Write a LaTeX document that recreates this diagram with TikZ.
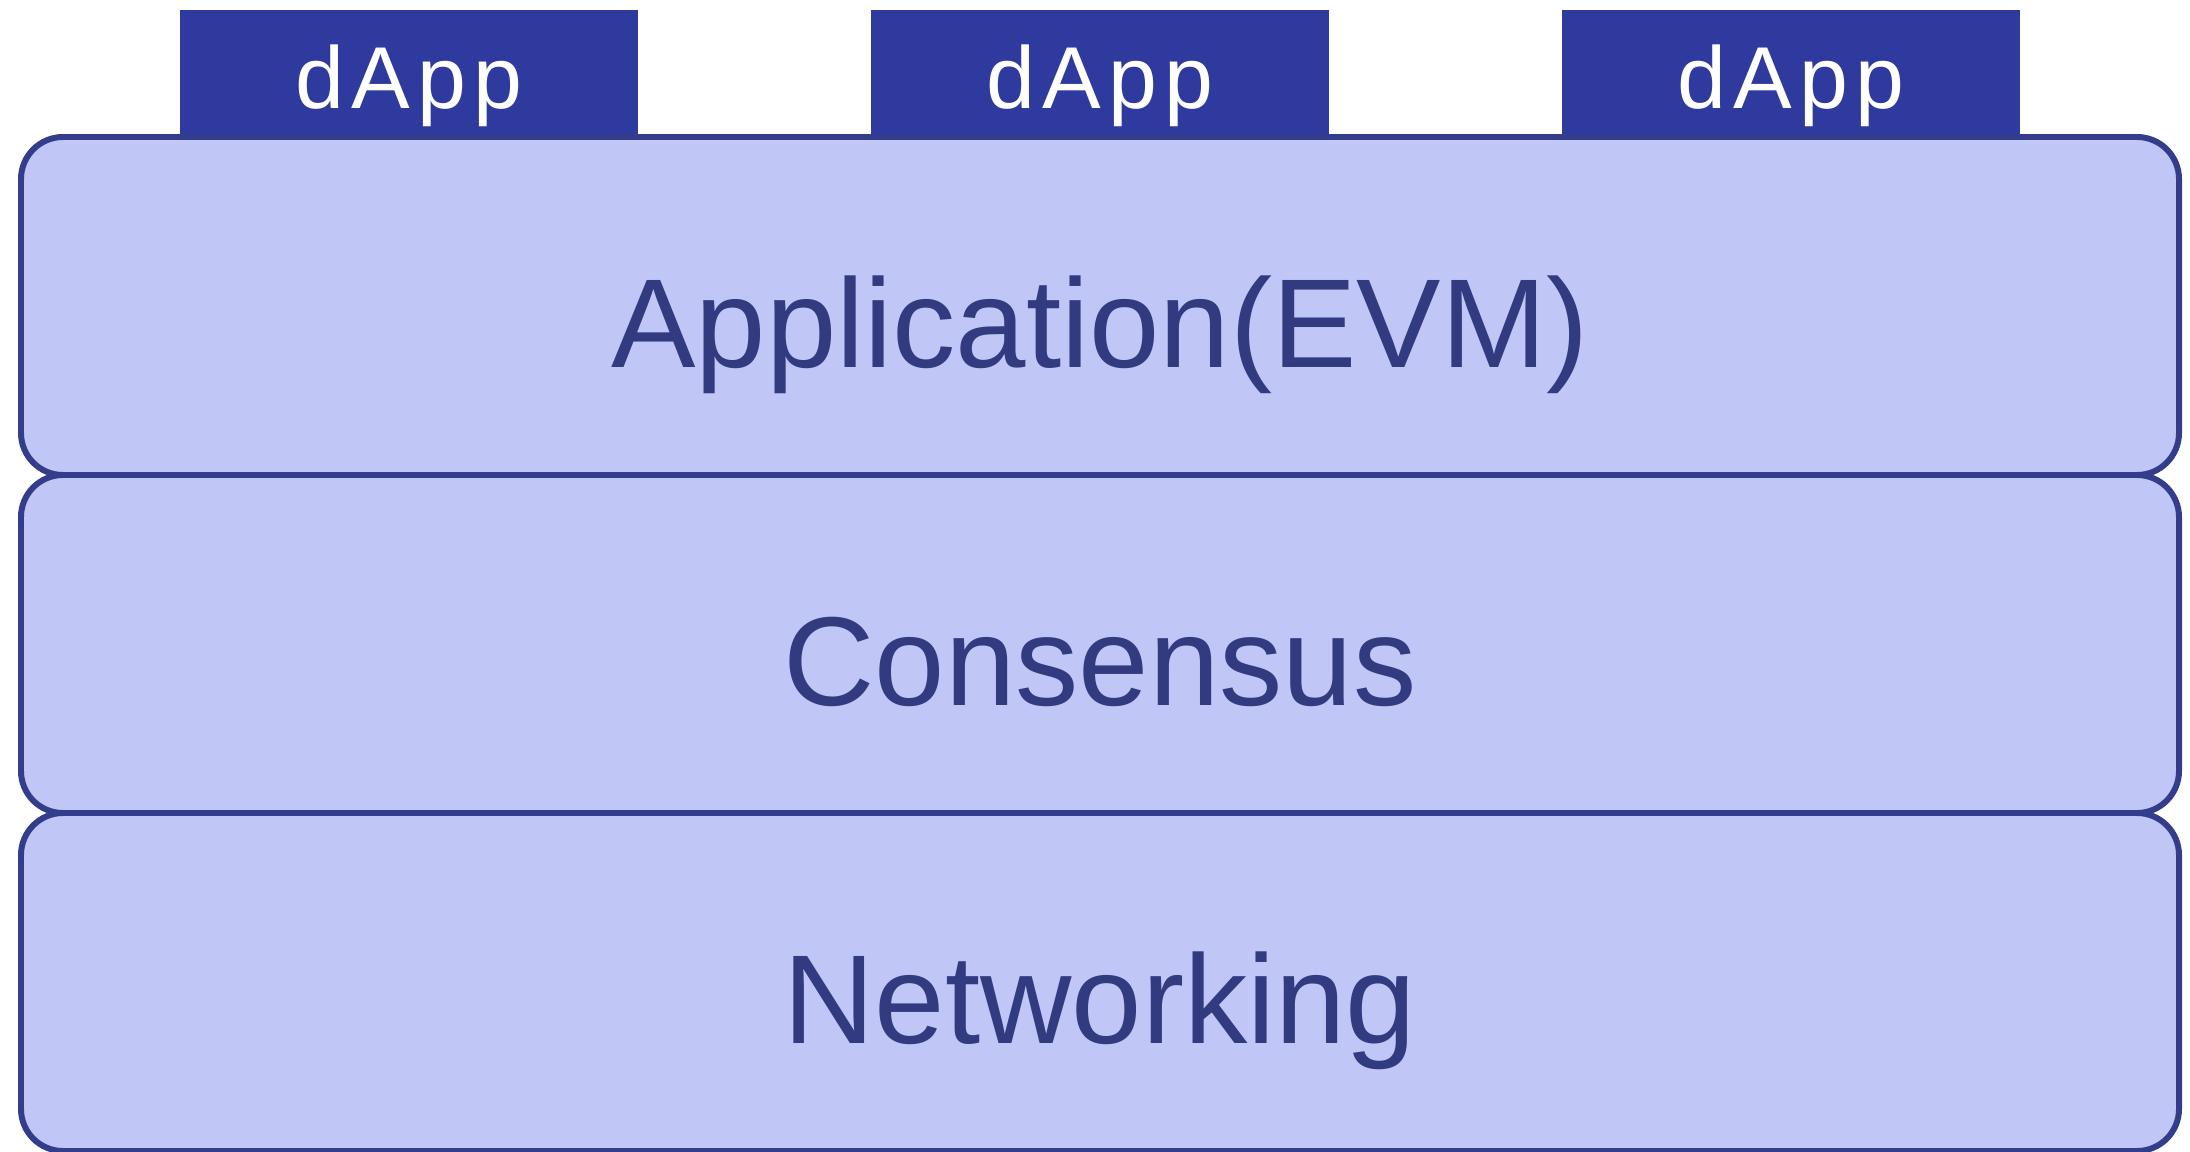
\documentclass[tikz,border=0pt]{standalone}
\usepackage{fontspec}
\setmainfont{Liberation Sans}
\usepackage{xcolor}
\usetikzlibrary{positioning}
\definecolor{LayerFill}{HTML}{C0C6F6}
\definecolor{LayerLine}{HTML}{343D8C}
\definecolor{LayerText}{HTML}{323A80}
\definecolor{DappBlue}{HTML}{2F3A9F}

\begin{document}
\begin{tikzpicture}[node distance=0pt,
  layer/.style={draw=LayerLine,line width=1.7pt,rounded corners=0.42cm,fill=LayerFill,minimum width=21.58cm,minimum height=3.38cm,inner sep=0pt,outer sep=0pt,text=LayerText,font=\fontsize{36}{40}\selectfont,text height=35pt,text depth=0pt},
  dapp/.style={fill=DappBlue,minimum width=4.58cm,minimum height=1.24cm,inner sep=0pt,outer sep=0pt,text=white,font=\fontsize{25}{30}\selectfont\addfontfeature{LetterSpace=8},text height=21pt,text depth=0pt}]
\useasboundingbox (0,0) rectangle (21.9,-11.52);
\node[layer] (app) at (11.0,-3.06) {Application(EVM)};
\node[layer,below=of app] (cons) {Consensus};
\node[layer,below=of cons] (net) {Networking};
\node[dapp,above=0.85pt of app.north,xshift=-6.91cm] (d1) {dApp};
\node[dapp,above=0.85pt of app.north] (d2) {dApp};
\node[dapp,above=0.85pt of app.north,xshift=6.91cm] (d3) {dApp};
\end{tikzpicture}
\end{document}
